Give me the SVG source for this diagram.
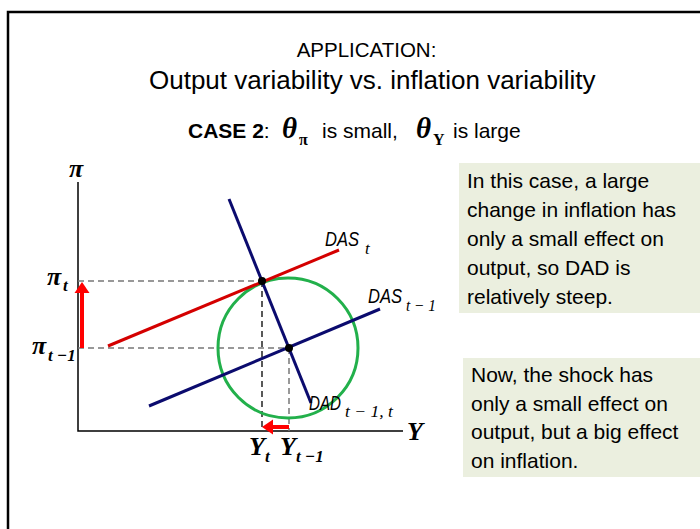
<svg xmlns="http://www.w3.org/2000/svg" width="700" height="529" viewBox="0 0 700 529">
<defs>
<marker id="redhead" markerUnits="userSpaceOnUse" markerWidth="11" markerHeight="15" refX="0" refY="7.5" orient="auto" overflow="visible">
<path d="M0,0 L11,7.5 L0,15 z" fill="#ff0000"/>
</marker>
<style>
.sans{font-family:"Liberation Sans",Arial,sans-serif;fill:#000}
.title{font-size:20.5px}
.title2{font-size:26px}
.box{fill:#ebefdf}
.btxt{font-family:"Liberation Sans",Arial,sans-serif;font-size:21px;fill:#000}
.math{font-family:"Liberation Serif","Times New Roman",serif;font-weight:bold;font-style:italic;fill:#000}
.big{font-size:26px}
.sub{font-size:17px}
.lbl{font-family:"Liberation Sans",Arial,sans-serif;font-style:italic;font-size:20px;fill:#000}
.lsub{font-family:"Liberation Serif","Times New Roman",serif;font-style:italic;font-size:17px}
.axis{stroke:#000;stroke-width:1.5;fill:none}
.dash{stroke:#777;stroke-width:1.5;stroke-dasharray:6 4;fill:none}
.dashk{stroke:#000;stroke-width:1.3;stroke-dasharray:6 4;fill:none}
.navy{stroke:#0b0b6e;stroke-width:3;fill:none}
.red{stroke:#d40000;stroke-width:3;fill:none}
.arrow{stroke:#ff0000;stroke-width:4;fill:none;marker-end:url(#redhead)}
</style>
</defs>
<rect width="700" height="529" fill="#fff"/>
<path d="M8,529 V12 H700" fill="none" stroke="#000" stroke-width="2.5"/>

<g id="title">
<text class="sans title" x="366.5" y="57" text-anchor="middle">APPLICATION:</text>
<text class="sans title2" x="149" y="89">Output variability vs. inflation variability</text>
<text class="sans" x="188" y="138" font-size="21"><tspan font-weight="bold">CASE 2</tspan>:</text>
<text class="math" x="282" y="138" font-size="29">θ<tspan x="299" dy="7" font-style="normal" font-size="16">π</tspan></text>
<text class="sans" x="322" y="138" font-size="21">is small,</text>
<text class="math" x="416" y="138" font-size="29">θ<tspan x="433" dy="7" font-style="normal" font-size="16">Y</tspan></text>
<text class="sans" x="453" y="138" font-size="21">is large</text>
</g>

<g id="axes">
<path class="axis" d="M78,182 V431 H403"/>
<text class="math big" x="69" y="177">π</text>
<text class="math big" x="407" y="440">Y</text>
</g>

<g id="connectors">
<path class="dash" d="M78,281 H262"/>
<path class="dash" d="M78,348 H289"/>
<path class="dashk" d="M262,281 V431"/>
<path class="dash" d="M289,348 V431"/>
<path class="arrow" d="M82,348 V293"/>
<path class="arrow" d="M289,427 H273"/>
</g>

<g id="circle">
<circle cx="288" cy="348" r="70" fill="none" stroke="#22b04b" stroke-width="3"/>
</g>

<g id="DAS-t">
<line class="red" x1="108" y1="346" x2="339" y2="250"/>
<text class="lbl" x="325" y="246"><tspan textLength="34" lengthAdjust="spacingAndGlyphs">DAS</tspan><tspan class="lsub" x="365" dy="8">t</tspan></text>
</g>

<g id="DAS-t-1">
<line class="navy" x1="149" y1="406" x2="380" y2="309"/>
<text class="lbl" x="368" y="303"><tspan textLength="34" lengthAdjust="spacingAndGlyphs">DAS</tspan><tspan class="lsub" x="406" dy="8" textLength="30" lengthAdjust="spacingAndGlyphs">t − 1</tspan></text>
</g>

<g id="DAD">
<line class="navy" x1="229" y1="199" x2="311" y2="403"/>
<text class="lbl" x="309" y="410"><tspan textLength="32" lengthAdjust="spacingAndGlyphs">DAD</tspan><tspan class="lsub" x="345" dy="7" textLength="48" lengthAdjust="spacingAndGlyphs">t − 1, t</tspan></text>
</g>

<g id="points">
<circle cx="262" cy="281" r="4" fill="#000"/>
<circle cx="289" cy="348" r="4" fill="#000"/>
</g>

<g id="pi-labels">
<text class="math big" x="47" y="285">π<tspan class="sub" x="63" dy="6">t</tspan></text>
<text class="math big" x="32" y="354">π<tspan class="sub" x="48" dy="7">t −1</tspan></text>
</g>

<g id="Y-labels">
<text class="math big" x="249" y="455">Y<tspan class="sub" x="265" dy="7">t</tspan></text>
<text class="math big" x="280" y="455">Y<tspan class="sub" x="296" dy="7">t −1</tspan></text>
</g>

<g id="box1">
<rect class="box" x="459" y="163" width="241" height="150"/>
<text class="btxt" x="467" y="188">In this case, a large</text>
<text class="btxt" x="467" y="217">change in inflation has</text>
<text class="btxt" x="467" y="246">only a small effect on</text>
<text class="btxt" x="467" y="275">output, so DAD is</text>
<text class="btxt" x="467" y="304">relatively steep.</text>
</g>

<g id="box2">
<rect class="box" x="463" y="358" width="237" height="119"/>
<text class="btxt" x="471" y="382">Now, the shock has</text>
<text class="btxt" x="471" y="410.5">only a small effect on</text>
<text class="btxt" x="471" y="439">output, but a big effect</text>
<text class="btxt" x="471" y="467.5">on inflation.</text>
</g>
</svg>
